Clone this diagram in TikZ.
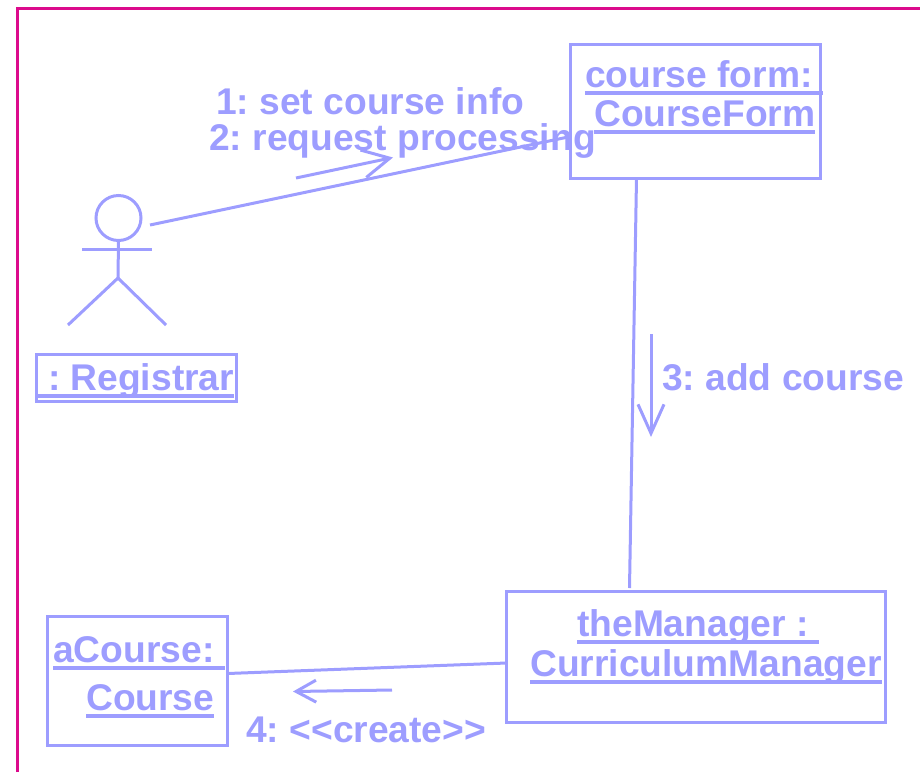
\documentclass[tikz,border=0pt]{standalone}
\usepackage{fontspec}
\setmainfont{Liberation Sans}
\usetikzlibrary{arrows.meta}
\definecolor{umlblue}{HTML}{9D9DFF}
\definecolor{framepink}{HTML}{DC0A8C}
\newcommand{\ulbox}[1]{\setbox0=\hbox{#1}\rlap{\rule[-7.5pt]{\wd0}{3.5pt}}\box0}
\tikzstyle{objbox}=[draw=umlblue,line width=3pt,inner sep=0pt,outer sep=0pt,anchor=north west]
\tikzstyle{lbl}=[text=umlblue,font=\fontsize{37.2}{37.2}\selectfont\bfseries\frenchspacing,inner sep=0pt,anchor=base west]
\tikzstyle{conn}=[draw=umlblue,line width=3pt]
\begin{document}
\begin{tikzpicture}[x=1pt,y=-1pt]
    \useasboundingbox (0,0) rectangle (920,772);
    \draw [framepink,line width=3.5pt] (17.5,772) -- (17.5,8.5) -- (920,8.5);

    \node (form) [objbox,minimum width=250pt,minimum height=134pt] at (570.5,44) {};
    \node (manager) [objbox,minimum width=379pt,minimum height=131pt] at (506.5,591) {};
    \node (course) [objbox,minimum width=180pt,minimum height=129pt] at (47.5,616) {};
    \node (registrar) [objbox,minimum width=200pt,minimum height=47pt] at (36.5,354) {};
    \node (head) [draw=umlblue,line width=3pt,circle,inner sep=0pt,outer sep=0pt,minimum size=45pt] at (118.5,218) {};

    \node (formname) [lbl] at (585,87) {\ulbox{course form:\ }};
    \node (formclass) [lbl] at (594,126) {\ulbox{CourseForm}};
    \node (managername) [lbl] at (577,636) {\ulbox{theManager :\ }};
    \node (managerclass) [lbl] at (530,676) {\ulbox{CurriculumManager}};
    \node (coursename) [lbl] at (53,662) {\ulbox{aCourse:\ }};
    \node (courseclass) [lbl] at (86,710) {\ulbox{Course}};
    \node (registrarname) [lbl] at (37.5,390) {\ulbox{\ : Registrar}};
    \node (msgone) [lbl] at (216,114) {1: set course info};
    \node (msgtwo) [lbl] at (209,150) {2: request processing};
    \node (msgthree) [lbl] at (662,390) {3: add course};
    \node (msgfour) [lbl] at (246,742) {4: {<}{<}create{>}{>}};

    % stick figure
    \coordinate (neck) at (118,249);
    \coordinate (hip) at (118,278);
    \draw [conn] (head.south) -- (hip);
    \draw [conn] (82,249) -- (neck) -- (152,249);
    \draw [conn] (68,325) -- (hip) -- (166,325);

    % links
    \draw [conn] ([shift={(9pt,-7pt)}]head.east) -- ([yshift=-25.5pt]form.west);
    \draw [conn] ([xshift=66pt]form.south west) -- ([shift={(123pt,3pt)}]manager.north west);
    \draw [conn] ([yshift=7pt]course.east) -- ([yshift=-6.5pt]manager.west);

    % message arrows
    \coordinate (oneA) at (296,178);
    \coordinate (oneB) at (393,157.5);
    \coordinate (twoA) at (651,334);
    \coordinate (twoB) at (651,437);
    \coordinate (threeA) at (392,690);
    \coordinate (threeB) at (293,691.5);
    \draw [conn,-{Straight Barb[length=27pt,width=28pt,line width=3pt]}] (oneA) -- (oneB);
    \draw [conn,-{Straight Barb[length=29pt,width=26pt,line width=3pt]}] (twoA) -- (twoB);
    \draw [conn,-{Straight Barb[length=20pt,width=22pt,line width=3pt]}] (threeA) -- (threeB);
\end{tikzpicture}
\end{document}
